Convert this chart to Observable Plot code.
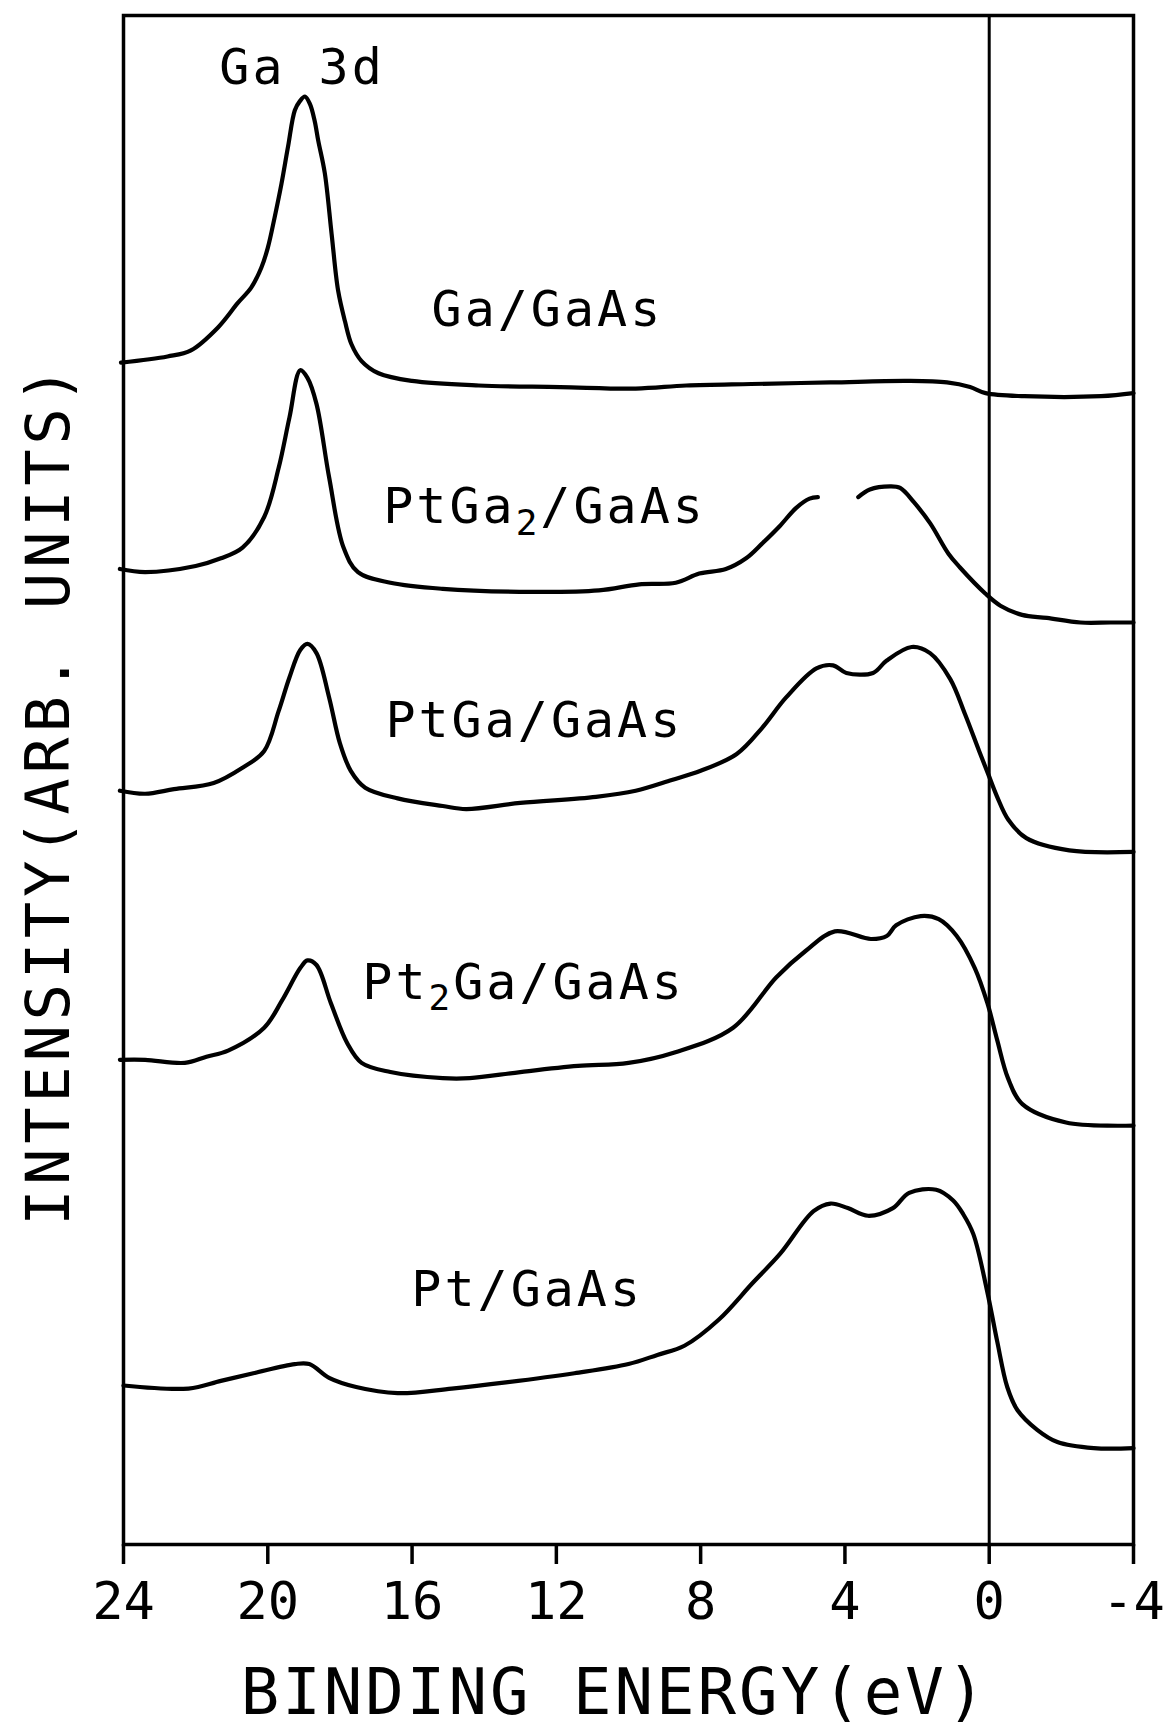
<!DOCTYPE html>
<html>
<head>
<meta charset="utf-8">
<script src="https://cdn.jsdelivr.net/npm/d3@7"></script>
<script src="https://cdn.jsdelivr.net/npm/@observablehq/plot@0.6"></script>
<style>
html, body { margin: 0; padding: 0; background: #fff; }
#chart { width: 1166px; height: 1729px; }
</style>
</head>
<body>
<div id="chart"></div>
<script>
// Binding-energy ticks (eV) and labels
const energyTicks = [24, 20, 16, 12, 8, 4, 0, -4];
const xTitle = "BINDING ENERGY(eV)";
const yTitle = "INTENSITY(ARB. UNITS)";

// Ga/GaAs spectrum (energy eV, intensity arb. units)
const gaE = [24.07, 22.78, 22.13, 21.38, 20.83, 20.46, 20.18, 20.0, 19.81, 19.62, 19.44, 19.25, 19.11, 18.97, 18.83, 18.7, 18.6, 18.42, 18.23, 18.05, 17.86, 17.68, 17.4, 16.93, 16.0, 14.15, 11.9, 9.8, 8.4, 6.6, 4.4, 2.25, 1.17, 0.53, 0.1, -0.97, -3.1, -4.0];
const gaI = [77.3, 77.7, 78.1, 79.6, 81.2, 82.2, 83.5, 84.8, 86.8, 89.0, 91.4, 93.8, 94.4, 94.7, 94.2, 93.1, 91.8, 89.7, 85.7, 82.0, 80.0, 78.5, 77.4, 76.6, 76.1, 75.8, 75.7, 75.6, 75.8, 75.9, 76.0, 76.1, 76.0, 75.7, 75.3, 75.1, 75.1, 75.3];

// PtGa2/GaAs spectrum (null = gap in the trace)
const ptga2E = [24.1, 23.4, 22.0, 21.3, 20.7, 20.1, 19.7, 19.4, 19.1, 18.9, 18.65, 18.3, 17.9, 17.5, 16.6, 15.15, 12.7, 10.82, 9.7, 8.69, 8.04, 7.3, 6.74, 6.28, 5.81, 5.35, 4.98, 4.75, 4.2, 3.63, 3.31, 2.75, 2.47, 2.1, 1.64, 1.13, 0.81, 0.11, -0.31, -0.91, -1.6, -2.53, -3.36, -4.0];
const ptga2I = [63.8, 63.6, 64.0, 64.5, 65.2, 67.2, 70.4, 73.7, 76.8, 76.3, 74.6, 69.8, 65.2, 63.6, 62.9, 62.5, 62.3, 62.4, 62.8, 62.9, 63.5, 63.8, 64.5, 65.5, 66.6, 67.8, 68.4, 68.5, null, 68.5, 69.0, 69.2, 69.1, 68.2, 66.8, 64.8, 63.9, 62.2, 61.4, 60.8, 60.6, 60.3, 60.3, 60.3];

// PtGa/GaAs spectrum
const ptgaE = [24.1, 23.4, 22.6, 21.5, 20.7, 20.1, 19.7, 19.4, 19.1, 18.9, 18.65, 18.3, 18.0, 17.7, 17.3, 16.4, 15.15, 14.5, 13.0, 10.9, 9.8, 8.8, 8.0, 7.0, 6.3, 5.63, 4.79, 4.33, 3.96, 3.22, 2.85, 2.15, 1.64, 1.08, 0.67, 0.28, 0.03, -0.22, -0.53, -1.03, -2.22, -4.0];
const ptgaI = [49.3, 49.1, 49.4, 49.8, 50.8, 51.9, 54.5, 56.7, 58.5, 58.9, 58.3, 55.4, 52.4, 50.6, 49.5, 48.8, 48.3, 48.1, 48.5, 48.9, 49.3, 50.0, 50.6, 51.7, 53.4, 55.4, 57.3, 57.5, 57.0, 57.0, 57.8, 58.7, 58.3, 56.6, 54.3, 51.9, 50.4, 48.9, 47.4, 46.2, 45.4, 45.3];

// Pt2Ga/GaAs spectrum
const pt2gaE = [24.1, 23.4, 22.3, 21.7, 21.1, 20.1, 19.6, 19.1, 18.9, 18.65, 18.25, 17.8, 17.4, 16.6, 15.15, 14.4, 13.0, 11.4, 10.0, 8.7, 7.1, 5.9, 5.1, 4.28, 3.28, 2.84, 2.58, 1.9, 1.4, 0.9, 0.4, 0.05, -0.22, -0.52, -0.92, -2.13, -4.0];
const pt2gaI = [31.7, 31.7, 31.5, 31.9, 32.3, 33.8, 35.6, 37.7, 38.2, 37.9, 35.4, 32.8, 31.5, 30.9, 30.5, 30.5, 30.9, 31.3, 31.5, 32.2, 33.8, 37.1, 38.8, 40.1, 39.6, 39.8, 40.5, 41.1, 40.9, 39.8, 37.7, 35.4, 33.0, 30.5, 28.8, 27.6, 27.4];

// Pt/GaAs spectrum
const ptE = [24.0, 22.2, 21.3, 20.4, 19.25, 18.85, 18.3, 17.55, 16.4, 14.9, 13.4, 11.5, 10.0, 9.2, 8.45, 7.5, 6.56, 5.8, 4.87, 4.4, 3.92, 3.36, 2.67, 2.22, 1.47, 1.0, 0.72, 0.44, 0.06, -0.22, -0.5, -0.78, -1.33, -1.89, -2.9, -4.0];
const ptI = [10.4, 10.2, 10.7, 11.2, 11.8, 11.8, 10.9, 10.3, 9.9, 10.2, 10.6, 11.2, 11.8, 12.4, 13.0, 14.7, 17.1, 19.0, 21.8, 22.3, 22.0, 21.5, 22.0, 23.0, 23.2, 22.5, 21.6, 20.3, 16.6, 13.3, 10.3, 8.8, 7.5, 6.7, 6.3, 6.3];

// Curve annotations
const labelText = ["Ga 3d", "Ga/GaAs", "PtGa\u2082/GaAs", "PtGa/GaAs", "Pt\u2082Ga/GaAs", "Pt/GaAs"];
const labelE = [19.05, 15.46, 16.8, 16.74, 17.38, 16.02];
const labelI = [95.55, 79.7, 66.8, 52.8, 35.7, 15.6];
const labelAnchor = ["middle", "start", "start", "start", "start", "start"];

const rows = [];
function addSeries(name, E, I) {
  E.forEach((e, k) => rows.push({series: name, energy: e, intensity: I[k]}));
}
addSeries("Ga/GaAs", gaE, gaI);
addSeries("PtGa2/GaAs", ptga2E, ptga2I);
addSeries("PtGa/GaAs", ptgaE, ptgaI);
addSeries("Pt2Ga/GaAs", pt2gaE, pt2gaI);
addSeries("Pt/GaAs", ptE, ptI);

const labels = labelText.map((t, k) => ({text: t, energy: labelE[k], intensity: labelI[k], anchor: labelAnchor[k]}));

const font = "'DejaVu Sans Mono', monospace";

const plot = Plot.plot({
  width: 1166,
  height: 1729,
  marginLeft: 123,
  marginRight: 33,
  marginTop: 15,
  marginBottom: 185,
  style: {fontFamily: font, background: "#fff", color: "#000"},
  x: {domain: [24, -4]},
  y: {domain: [0, 100], axis: null},
  marks: [
    Plot.ruleX([0], {stroke: "#000", strokeWidth: 3}),
    Plot.line(rows, {x: "energy", y: "intensity", z: "series", stroke: "#000", strokeWidth: 4.2, strokeLinejoin: "round", strokeLinecap: "round", curve: "catmull-rom"}),
    Plot.frame({stroke: "#000", strokeWidth: 3.5}),
    Plot.axisX({ticks: energyTicks, tickSize: 20, tickPadding: 18, fontSize: 52, strokeWidth: 3.5, tickFormat: d => String(d), label: null}),
    Plot.text(labels.filter(d => d.anchor === "middle"), {x: "energy", y: "intensity", text: "text", textAnchor: "middle", lineAnchor: "bottom", fontSize: 50, fill: "#000"}),
    Plot.text(labels.filter(d => d.anchor === "start"), {x: "energy", y: "intensity", text: "text", textAnchor: "start", lineAnchor: "bottom", fontSize: 50, fill: "#000"}),
    Plot.text([xTitle], {text: d => d, frameAnchor: "bottom", textAnchor: "middle", dx: -14, dy: 169, lineAnchor: "bottom", fontSize: 64, fill: "#000"}),
    Plot.text([yTitle], {text: d => d, frameAnchor: "left", textAnchor: "middle", rotate: -90, dx: -55, dy: 14, lineAnchor: "bottom", fontSize: 60, fill: "#000"})
  ]
});

document.getElementById("chart").appendChild(plot);

// letter spacing to mimic the plotter lettering; larger lowered subscripts
const textGroups = plot.querySelectorAll('g[aria-label="text"]');
textGroups.forEach((g, k) => {
  const sp = k <= 1 ? "3px" : (k === 2 ? "3px" : "5px");
  g.querySelectorAll("text").forEach(t => {
    t.style.letterSpacing = sp;
    const s = t.textContent;
    if (s.includes("\u2082")) {
      const [a, b] = s.split("\u2082");
      while (t.firstChild) t.removeChild(t.firstChild);
      t.appendChild(document.createTextNode(a));
      const sub = document.createElementNS("http://www.w3.org/2000/svg", "tspan");
      sub.setAttribute("dy", "0.32em");
      sub.setAttribute("font-size", "0.72em");
      sub.textContent = "2";
      t.appendChild(sub);
      const rest = document.createElementNS("http://www.w3.org/2000/svg", "tspan");
      rest.setAttribute("dy", "-0.23em");
      rest.textContent = b;
      t.appendChild(rest);
    }
  });
});
</script>
</body>
</html>
